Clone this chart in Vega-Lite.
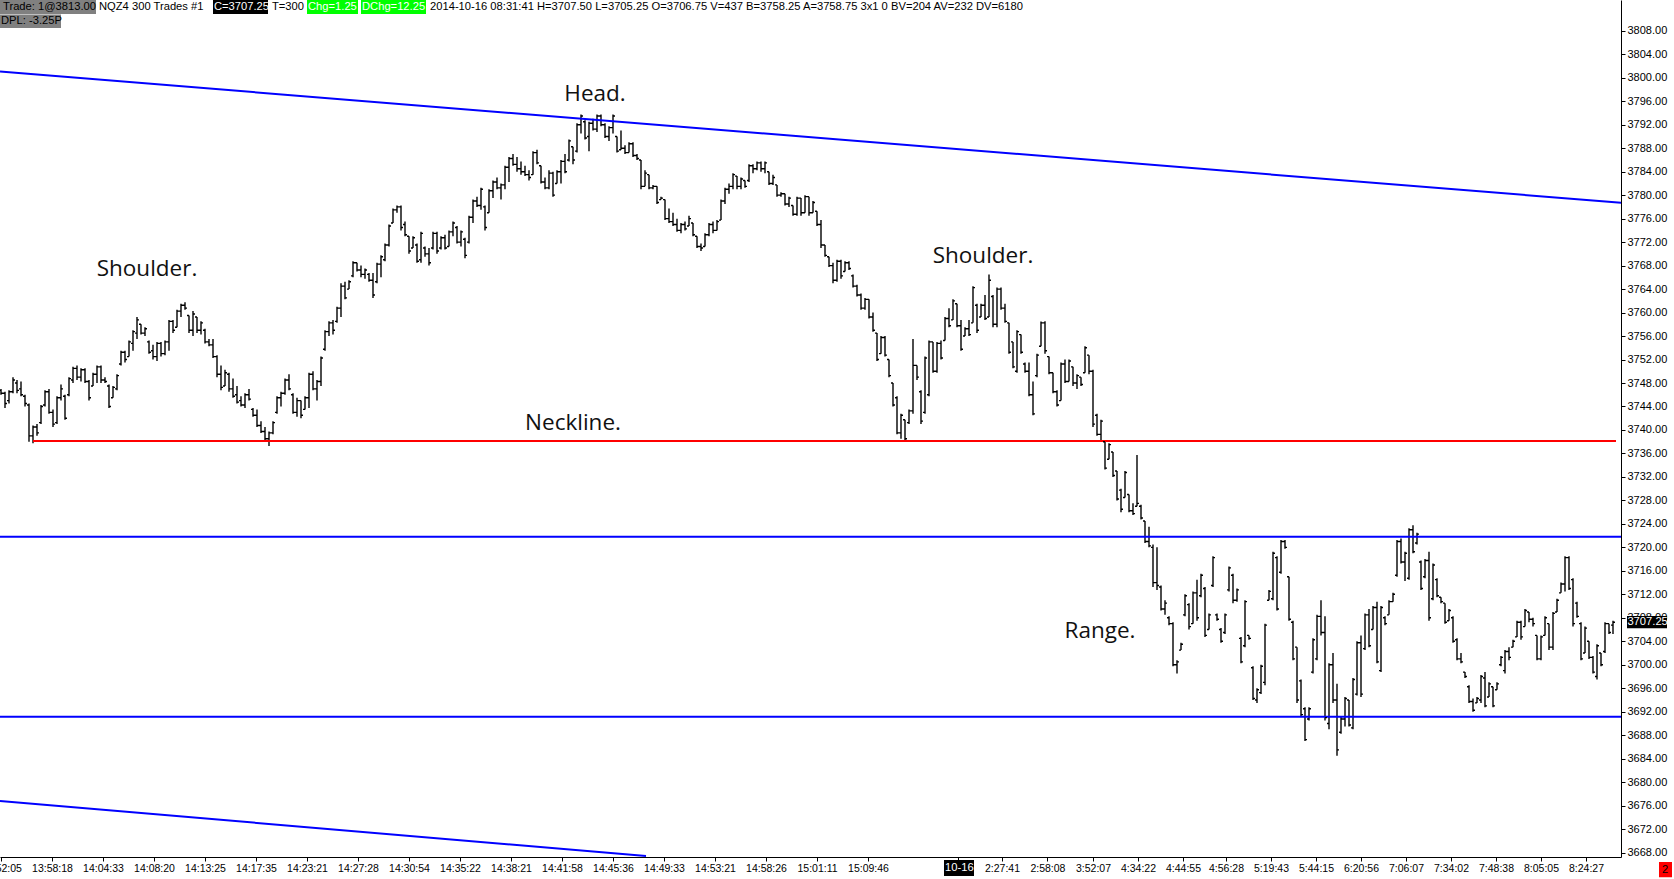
{
  "$schema": "https://vega.github.io/schema/vega-lite/v6.json",
  "width": 1621,
  "height": 857,
  "autosize": {"type": "none"},
  "padding": {"left": 0, "top": 0, "right": 53, "bottom": 22},
  "background": "white",
  "config": {
    "view": {"stroke": null},
    "axis": {
      "grid": false,
      "domainColor": "#000000",
      "tickColor": "#000000",
      "labelColor": "#000000",
      "labelFont": "Liberation Sans",
      "tickSize": 4,
      "domainWidth": 1,
      "labelOverlap": false,
      "labelFlush": false,
      "labelBound": false
    }
  },
  "datasets": {
    "bars": [
      {"i":0,"o":3746.75,"h":3747,"l":3746,"c":3746.25},
      {"i":1,"o":3746.25,"h":3746.5,"l":3743.75,"c":3744.5},
      {"i":2,"o":3745,"h":3746.75,"l":3744.5,"c":3746.5},
      {"i":3,"o":3746.5,"h":3749,"l":3746.25,"c":3748.5},
      {"i":4,"o":3748,"h":3748.5,"l":3746.25,"c":3746.75},
      {"i":5,"o":3747,"h":3748.25,"l":3745.75,"c":3746},
      {"i":6,"o":3745.75,"h":3746,"l":3744,"c":3744.5},
      {"i":7,"o":3744.25,"h":3744.5,"l":3738,"c":3739},
      {"i":8,"o":3739,"h":3740.75,"l":3737.75,"c":3740.5},
      {"i":9,"o":3740.5,"h":3741,"l":3739,"c":3739.5},
      {"i":10,"o":3741.25,"h":3744.25,"l":3741,"c":3744},
      {"i":11,"o":3744.25,"h":3746.75,"l":3744,"c":3746.5},
      {"i":12,"o":3746.5,"h":3747,"l":3742.75,"c":3743},
      {"i":13,"o":3743,"h":3743.5,"l":3740.5,"c":3741},
      {"i":14,"o":3741.25,"h":3745.75,"l":3741,"c":3745.5},
      {"i":15,"o":3745.5,"h":3747.75,"l":3745,"c":3747},
      {"i":16,"o":3745.75,"h":3746,"l":3741.75,"c":3742},
      {"i":17,"o":3746,"h":3749,"l":3745.75,"c":3748.75},
      {"i":18,"o":3748.5,"h":3750.75,"l":3748,"c":3750.5},
      {"i":19,"o":3750.5,"h":3751,"l":3748.5,"c":3749},
      {"i":20,"o":3749,"h":3750.5,"l":3748.25,"c":3750.25},
      {"i":21,"o":3750.25,"h":3750.5,"l":3748,"c":3748.25},
      {"i":22,"o":3748.25,"h":3748.5,"l":3745,"c":3745.5},
      {"i":23,"o":3747.5,"h":3749.75,"l":3747.5,"c":3749.5},
      {"i":24,"o":3749.5,"h":3751,"l":3748,"c":3750.75},
      {"i":25,"o":3750.75,"h":3751,"l":3748,"c":3748.5},
      {"i":26,"o":3748.5,"h":3749,"l":3748,"c":3748.25},
      {"i":27,"o":3747.5,"h":3747.75,"l":3743.75,"c":3744},
      {"i":28,"o":3745.5,"h":3747.5,"l":3745.5,"c":3747.25},
      {"i":29,"o":3747,"h":3749.5,"l":3746.75,"c":3749.25},
      {"i":30,"o":3751.25,"h":3753.5,"l":3751,"c":3753.25},
      {"i":31,"o":3753.25,"h":3753.5,"l":3751.5,"c":3752},
      {"i":32,"o":3752.5,"h":3755.25,"l":3752.5,"c":3755},
      {"i":33,"o":3754.75,"h":3757,"l":3753.5,"c":3756.75},
      {"i":34,"o":3756.5,"h":3759.25,"l":3755.5,"c":3758.75},
      {"i":35,"o":3758,"h":3758,"l":3756.25,"c":3756.5},
      {"i":36,"o":3756.5,"h":3757.5,"l":3756,"c":3757.25},
      {"i":37,"o":3755,"h":3755.25,"l":3753,"c":3753.25},
      {"i":38,"o":3753.5,"h":3754.5,"l":3752,"c":3752.5},
      {"i":39,"o":3752.5,"h":3755,"l":3751.75,"c":3754.75},
      {"i":40,"o":3754.75,"h":3755,"l":3752.5,"c":3753},
      {"i":41,"o":3753,"h":3755.25,"l":3752.75,"c":3755},
      {"i":42,"o":3755,"h":3758.75,"l":3753.5,"c":3758.5},
      {"i":43,"o":3758.5,"h":3758.75,"l":3756.5,"c":3757},
      {"i":44,"o":3757.5,"h":3760.5,"l":3757.5,"c":3760.25},
      {"i":45,"o":3760.25,"h":3761.5,"l":3759.25,"c":3761.25},
      {"i":46,"o":3761.25,"h":3761.75,"l":3760.5,"c":3760.75},
      {"i":47,"o":3759.5,"h":3759.5,"l":3756.5,"c":3757},
      {"i":48,"o":3757,"h":3760.25,"l":3756,"c":3759.75},
      {"i":49,"o":3759.25,"h":3759.25,"l":3756.5,"c":3757},
      {"i":50,"o":3757,"h":3758.5,"l":3756.25,"c":3758.25},
      {"i":51,"o":3757,"h":3757.25,"l":3754.75,"c":3755},
      {"i":52,"o":3755,"h":3755.5,"l":3754.25,"c":3754.5},
      {"i":53,"o":3754.5,"h":3755.5,"l":3752.25,"c":3752.5},
      {"i":54,"o":3752.5,"h":3752.75,"l":3749,"c":3749.5},
      {"i":55,"o":3749.5,"h":3751,"l":3746.75,"c":3747.25},
      {"i":56,"o":3747.5,"h":3750.25,"l":3747.5,"c":3749.75},
      {"i":57,"o":3749.5,"h":3749.75,"l":3746.5,"c":3747},
      {"i":58,"o":3747,"h":3748.75,"l":3745.5,"c":3745.75},
      {"i":59,"o":3746,"h":3747.5,"l":3744.5,"c":3744.75},
      {"i":60,"o":3745,"h":3745.75,"l":3744,"c":3744.25},
      {"i":61,"o":3744.25,"h":3746.25,"l":3743.75,"c":3746},
      {"i":62,"o":3746,"h":3747,"l":3745,"c":3745.25},
      {"i":63,"o":3743.5,"h":3743.75,"l":3742.25,"c":3742.5},
      {"i":64,"o":3742.5,"h":3743.5,"l":3740.5,"c":3740.75},
      {"i":65,"o":3740.75,"h":3741.5,"l":3739.5,"c":3739.75},
      {"i":66,"o":3739.75,"h":3740.5,"l":3738.25,"c":3738.5},
      {"i":67,"o":3738.5,"h":3739.75,"l":3737.25,"c":3739.5},
      {"i":68,"o":3739.5,"h":3741.5,"l":3739.25,"c":3741.25},
      {"i":69,"o":3743,"h":3745.75,"l":3742.75,"c":3745.5},
      {"i":70,"o":3745.5,"h":3746.5,"l":3744,"c":3746.25},
      {"i":71,"o":3746.25,"h":3748.75,"l":3746,"c":3748.5},
      {"i":72,"o":3748.5,"h":3749.5,"l":3746.75,"c":3747},
      {"i":73,"o":3746,"h":3746.25,"l":3742.75,"c":3743},
      {"i":74,"o":3743,"h":3745.5,"l":3742.25,"c":3745},
      {"i":75,"o":3745,"h":3745,"l":3742,"c":3742.5},
      {"i":76,"o":3743.5,"h":3745.75,"l":3743.5,"c":3745.5},
      {"i":77,"o":3745.5,"h":3749.75,"l":3743.75,"c":3749.5},
      {"i":78,"o":3749.5,"h":3750,"l":3746.75,"c":3747},
      {"i":79,"o":3747,"h":3748.5,"l":3745,"c":3748.25},
      {"i":80,"o":3748.25,"h":3752.5,"l":3747.5,"c":3752.25},
      {"i":81,"o":3753.75,"h":3757,"l":3753.5,"c":3756.75},
      {"i":82,"o":3756.75,"h":3758.5,"l":3756,"c":3758.25},
      {"i":83,"o":3758.25,"h":3758.75,"l":3756.25,"c":3757},
      {"i":84,"o":3758.5,"h":3761,"l":3758.25,"c":3760.75},
      {"i":85,"o":3760.75,"h":3765,"l":3759.25,"c":3764.5},
      {"i":86,"o":3764.5,"h":3765.25,"l":3762.25,"c":3762.5},
      {"i":87,"o":3764,"h":3765.5,"l":3764,"c":3765.25},
      {"i":88,"o":3766.25,"h":3768.75,"l":3766,"c":3768.5},
      {"i":89,"o":3768.5,"h":3768.5,"l":3767,"c":3767.25},
      {"i":90,"o":3767.25,"h":3768,"l":3766,"c":3766.5},
      {"i":91,"o":3766.5,"h":3767.5,"l":3765.75,"c":3767.25},
      {"i":92,"o":3766.5,"h":3766.75,"l":3765.25,"c":3765.5},
      {"i":93,"o":3765.5,"h":3766.75,"l":3762.5,"c":3763},
      {"i":94,"o":3765.25,"h":3768.5,"l":3765,"c":3768.25},
      {"i":95,"o":3768.25,"h":3769.75,"l":3766,"c":3769.5},
      {"i":96,"o":3769,"h":3771.75,"l":3768.75,"c":3771.5},
      {"i":97,"o":3771.5,"h":3775,"l":3771.25,"c":3774.75},
      {"i":98,"o":3775.25,"h":3777.75,"l":3775.25,"c":3777.5},
      {"i":99,"o":3777.5,"h":3778.25,"l":3777,"c":3778},
      {"i":100,"o":3778,"h":3778.25,"l":3774,"c":3774.5},
      {"i":101,"o":3775,"h":3775.5,"l":3773,"c":3773.25},
      {"i":102,"o":3773,"h":3773,"l":3770,"c":3770.5},
      {"i":103,"o":3771,"h":3773,"l":3771,"c":3772.75},
      {"i":104,"o":3771.5,"h":3771.75,"l":3768.5,"c":3768.75},
      {"i":105,"o":3769,"h":3773.75,"l":3768.5,"c":3773.5},
      {"i":106,"o":3771,"h":3771.25,"l":3769.5,"c":3770},
      {"i":107,"o":3770,"h":3771,"l":3768,"c":3768.5},
      {"i":108,"o":3771,"h":3773.75,"l":3770.75,"c":3773.5},
      {"i":109,"o":3773.5,"h":3773.75,"l":3770,"c":3770.5},
      {"i":110,"o":3771,"h":3773,"l":3770.75,"c":3772.75},
      {"i":111,"o":3772.75,"h":3773.25,"l":3770.75,"c":3771},
      {"i":112,"o":3771.25,"h":3774,"l":3771.25,"c":3773.75},
      {"i":113,"o":3773.75,"h":3775.5,"l":3773,"c":3775.25},
      {"i":114,"o":3774.5,"h":3774.75,"l":3771.75,"c":3772},
      {"i":115,"o":3772,"h":3774,"l":3771.25,"c":3773.75},
      {"i":116,"o":3772.5,"h":3772.75,"l":3769.25,"c":3769.75},
      {"i":117,"o":3772,"h":3776.5,"l":3771.75,"c":3776.25},
      {"i":118,"o":3776.25,"h":3779.25,"l":3775.25,"c":3779},
      {"i":119,"o":3779,"h":3779.75,"l":3778,"c":3778.25},
      {"i":120,"o":3778.25,"h":3781.25,"l":3777.5,"c":3781},
      {"i":121,"o":3778,"h":3778.25,"l":3774,"c":3774.5},
      {"i":122,"o":3777,"h":3781,"l":3777,"c":3780.75},
      {"i":123,"o":3780.75,"h":3782.5,"l":3779.5,"c":3782.25},
      {"i":124,"o":3782.25,"h":3783,"l":3781,"c":3781.25},
      {"i":125,"o":3781.25,"h":3782,"l":3779.25,"c":3781.75},
      {"i":126,"o":3781.75,"h":3785,"l":3781,"c":3784.75},
      {"i":127,"o":3784.75,"h":3786.5,"l":3782.25,"c":3786.25},
      {"i":128,"o":3786.25,"h":3787,"l":3785,"c":3785.25},
      {"i":129,"o":3785.25,"h":3786.5,"l":3784,"c":3784.5},
      {"i":130,"o":3784.5,"h":3785.75,"l":3783.5,"c":3784},
      {"i":131,"o":3784,"h":3785,"l":3783.25,"c":3783.5},
      {"i":132,"o":3783.5,"h":3784.25,"l":3782.5,"c":3783},
      {"i":133,"o":3783.5,"h":3787.5,"l":3783.5,"c":3787.25},
      {"i":134,"o":3787.25,"h":3787.75,"l":3785.25,"c":3785.5},
      {"i":135,"o":3785,"h":3785,"l":3782,"c":3782.25},
      {"i":136,"o":3782.25,"h":3783,"l":3781,"c":3781.25},
      {"i":137,"o":3781.25,"h":3784.25,"l":3781,"c":3783.75},
      {"i":138,"o":3783.75,"h":3784,"l":3779.75,"c":3780},
      {"i":139,"o":3782,"h":3784.25,"l":3782,"c":3784},
      {"i":140,"o":3784,"h":3786,"l":3782,"c":3785.75},
      {"i":141,"o":3785.75,"h":3787,"l":3783.75,"c":3784},
      {"i":142,"o":3786,"h":3789.5,"l":3785.75,"c":3789.25},
      {"i":143,"o":3788.25,"h":3788.25,"l":3785.25,"c":3786},
      {"i":144,"o":3787.5,"h":3792.25,"l":3787.25,"c":3792},
      {"i":145,"o":3792,"h":3793.75,"l":3790.5,"c":3793.5},
      {"i":146,"o":3792.5,"h":3792.75,"l":3789.5,"c":3789.75},
      {"i":147,"o":3790,"h":3792.5,"l":3787.5,"c":3792.25},
      {"i":148,"o":3792.25,"h":3793,"l":3791,"c":3791.25},
      {"i":149,"o":3791.25,"h":3793.75,"l":3790.75,"c":3793.5},
      {"i":150,"o":3793.5,"h":3793.75,"l":3791.75,"c":3792},
      {"i":151,"o":3792,"h":3792.25,"l":3789.75,"c":3790},
      {"i":152,"o":3790,"h":3791.75,"l":3789.25,"c":3791.5},
      {"i":153,"o":3791.5,"h":3793.75,"l":3790.5,"c":3793.5},
      {"i":154,"o":3790,"h":3790,"l":3787.25,"c":3787.5},
      {"i":155,"o":3787.75,"h":3791,"l":3787.75,"c":3788},
      {"i":156,"o":3788,"h":3788.5,"l":3787,"c":3787.25},
      {"i":157,"o":3787.25,"h":3789,"l":3787.25,"c":3788.75},
      {"i":158,"o":3788.75,"h":3789,"l":3786.5,"c":3786.75},
      {"i":159,"o":3786.75,"h":3787,"l":3786,"c":3786.25},
      {"i":160,"o":3786,"h":3786,"l":3781,"c":3781.5},
      {"i":161,"o":3781.5,"h":3784.25,"l":3781.5,"c":3783.75},
      {"i":162,"o":3783.5,"h":3783.5,"l":3781,"c":3781.25},
      {"i":163,"o":3781.25,"h":3781.75,"l":3781,"c":3781.5},
      {"i":164,"o":3781.5,"h":3781.5,"l":3778.5,"c":3778.75},
      {"i":165,"o":3779.25,"h":3779.75,"l":3779.25,"c":3779.5},
      {"i":166,"o":3779.25,"h":3779.25,"l":3775.75,"c":3776},
      {"i":167,"o":3776,"h":3777.75,"l":3775.25,"c":3775.5},
      {"i":168,"o":3775.5,"h":3777,"l":3774.75,"c":3775},
      {"i":169,"o":3775,"h":3776,"l":3773.75,"c":3774},
      {"i":170,"o":3774,"h":3775.25,"l":3773.5,"c":3775},
      {"i":171,"o":3775,"h":3775.5,"l":3774,"c":3774.25},
      {"i":172,"o":3774.75,"h":3776.5,"l":3774.75,"c":3776},
      {"i":173,"o":3775.25,"h":3775.25,"l":3773,"c":3773.25},
      {"i":174,"o":3773,"h":3773,"l":3771,"c":3771.25},
      {"i":175,"o":3771.25,"h":3771.75,"l":3770.5,"c":3771},
      {"i":176,"o":3771.25,"h":3773.5,"l":3771.25,"c":3773.25},
      {"i":177,"o":3773.25,"h":3775.25,"l":3773,"c":3775},
      {"i":178,"o":3775,"h":3775.5,"l":3773.5,"c":3774},
      {"i":179,"o":3774,"h":3775.75,"l":3774,"c":3775.5},
      {"i":180,"o":3775.75,"h":3779.25,"l":3775.75,"c":3779},
      {"i":181,"o":3779,"h":3781.25,"l":3778.5,"c":3781},
      {"i":182,"o":3781,"h":3782,"l":3780.25,"c":3781.5},
      {"i":183,"o":3781.5,"h":3783.75,"l":3781,"c":3783.5},
      {"i":184,"o":3783.25,"h":3783.25,"l":3781,"c":3781.5},
      {"i":185,"o":3781.5,"h":3783,"l":3781,"c":3782.75},
      {"i":186,"o":3782.5,"h":3782.5,"l":3781.25,"c":3781.5},
      {"i":187,"o":3782.5,"h":3785.25,"l":3782.25,"c":3785},
      {"i":188,"o":3785,"h":3785.25,"l":3783.75,"c":3784.5},
      {"i":189,"o":3784.5,"h":3785.75,"l":3784.25,"c":3785.5},
      {"i":190,"o":3785.5,"h":3785.75,"l":3784,"c":3784.5},
      {"i":191,"o":3784.5,"h":3785.75,"l":3783.75,"c":3785.5},
      {"i":192,"o":3784,"h":3784,"l":3781.75,"c":3782},
      {"i":193,"o":3782,"h":3783.5,"l":3781.75,"c":3783},
      {"i":194,"o":3781.75,"h":3781.75,"l":3779.75,"c":3780},
      {"i":195,"o":3780,"h":3780.5,"l":3779.75,"c":3780.25},
      {"i":196,"o":3780.25,"h":3780.25,"l":3778.25,"c":3778.5},
      {"i":197,"o":3778.5,"h":3779.75,"l":3778,"c":3779.5},
      {"i":198,"o":3778.25,"h":3778.25,"l":3776.5,"c":3776.75},
      {"i":199,"o":3776.75,"h":3779.75,"l":3776.5,"c":3779.5},
      {"i":200,"o":3779.5,"h":3779.5,"l":3776.5,"c":3777},
      {"i":201,"o":3777,"h":3780,"l":3777,"c":3779.75},
      {"i":202,"o":3779.75,"h":3779.75,"l":3776.5,"c":3777},
      {"i":203,"o":3777,"h":3779,"l":3777,"c":3778.75},
      {"i":204,"o":3777.25,"h":3777.25,"l":3774.75,"c":3775},
      {"i":205,"o":3775,"h":3775.75,"l":3771,"c":3771.5},
      {"i":206,"o":3771.5,"h":3771.5,"l":3769.5,"c":3769.75},
      {"i":207,"o":3769.5,"h":3769.5,"l":3767.75,"c":3768},
      {"i":208,"o":3768,"h":3768.5,"l":3765,"c":3765.5},
      {"i":209,"o":3765.5,"h":3769,"l":3765.25,"c":3768.75},
      {"i":210,"o":3768.75,"h":3769,"l":3765.75,"c":3766.25},
      {"i":211,"o":3767,"h":3768.75,"l":3767,"c":3768.5},
      {"i":212,"o":3768.5,"h":3768.75,"l":3767.25,"c":3767.5},
      {"i":213,"o":3766.25,"h":3766.5,"l":3764.25,"c":3764.5},
      {"i":214,"o":3764.5,"h":3764.75,"l":3762.75,"c":3763},
      {"i":215,"o":3763,"h":3763.25,"l":3760.5,"c":3760.75},
      {"i":216,"o":3760.75,"h":3762.5,"l":3760.5,"c":3762.25},
      {"i":217,"o":3762.25,"h":3762.25,"l":3759,"c":3759.25},
      {"i":218,"o":3759.25,"h":3760,"l":3756.75,"c":3757},
      {"i":219,"o":3756.5,"h":3756.5,"l":3751.75,"c":3752},
      {"i":220,"o":3753,"h":3756,"l":3753,"c":3755.75},
      {"i":221,"o":3755.75,"h":3756,"l":3752.5,"c":3752.75},
      {"i":222,"o":3752,"h":3752,"l":3749,"c":3749.25},
      {"i":223,"o":3748,"h":3748,"l":3744,"c":3744.25},
      {"i":224,"o":3745.5,"h":3745.75,"l":3739.25,"c":3739.5},
      {"i":225,"o":3739.5,"h":3742.75,"l":3738.5,"c":3742.5},
      {"i":226,"o":3741.75,"h":3741.75,"l":3738.25,"c":3738.5},
      {"i":227,"o":3741.25,"h":3743.5,"l":3741,"c":3743.25},
      {"i":228,"o":3743.25,"h":3755.5,"l":3742.75,"c":3751},
      {"i":229,"o":3751,"h":3751,"l":3748.5,"c":3749},
      {"i":230,"o":3746.5,"h":3746.75,"l":3741,"c":3741.5},
      {"i":231,"o":3743,"h":3752.5,"l":3742.75,"c":3752.25},
      {"i":232,"o":3746,"h":3755.25,"l":3745.75,"c":3755},
      {"i":233,"o":3755,"h":3755,"l":3749.75,"c":3750},
      {"i":234,"o":3750,"h":3755,"l":3749.75,"c":3754.75},
      {"i":235,"o":3754.75,"h":3755.25,"l":3752,"c":3752.25},
      {"i":236,"o":3755.25,"h":3759.25,"l":3755.25,"c":3759},
      {"i":237,"o":3759,"h":3760.75,"l":3757.5,"c":3757.75},
      {"i":238,"o":3758.75,"h":3762.25,"l":3758.75,"c":3762},
      {"i":239,"o":3761.5,"h":3761.5,"l":3757.5,"c":3757.75},
      {"i":240,"o":3757.75,"h":3758.75,"l":3753.5,"c":3753.75},
      {"i":241,"o":3756,"h":3757.5,"l":3756,"c":3757.25},
      {"i":242,"o":3757.25,"h":3758.75,"l":3756,"c":3756.25},
      {"i":243,"o":3758.25,"h":3764.5,"l":3758.25,"c":3764.25},
      {"i":244,"o":3761.25,"h":3761.5,"l":3756.5,"c":3757},
      {"i":245,"o":3759.25,"h":3761.5,"l":3759.25,"c":3761.25},
      {"i":246,"o":3761.25,"h":3763,"l":3758.75,"c":3759},
      {"i":247,"o":3759.25,"h":3766.5,"l":3759.25,"c":3765.5},
      {"i":248,"o":3762.75,"h":3763,"l":3757.5,"c":3758},
      {"i":249,"o":3758,"h":3764.25,"l":3757.5,"c":3764},
      {"i":250,"o":3764,"h":3764.25,"l":3760.5,"c":3760.75},
      {"i":251,"o":3760.75,"h":3761.5,"l":3758.25,"c":3758.5},
      {"i":252,"o":3758.25,"h":3758.25,"l":3753,"c":3753.25},
      {"i":253,"o":3755,"h":3755,"l":3750.5,"c":3750.75},
      {"i":254,"o":3750,"h":3757,"l":3749.75,"c":3756.75},
      {"i":255,"o":3756.25,"h":3756.25,"l":3753,"c":3753.25},
      {"i":256,"o":3751.25,"h":3751.5,"l":3749.75,"c":3750},
      {"i":257,"o":3750,"h":3751.5,"l":3745.75,"c":3746},
      {"i":258,"o":3746,"h":3748.25,"l":3742.5,"c":3742.75},
      {"i":259,"o":3749.25,"h":3753,"l":3749,"c":3752.75},
      {"i":260,"o":3754.25,"h":3758.5,"l":3754.25,"c":3758.25},
      {"i":261,"o":3758.25,"h":3758.5,"l":3753,"c":3753.5},
      {"i":262,"o":3752.5,"h":3752.5,"l":3749.5,"c":3749.75},
      {"i":263,"o":3749.75,"h":3749.75,"l":3746.25,"c":3746.5},
      {"i":264,"o":3746.5,"h":3746.75,"l":3744,"c":3744.25},
      {"i":265,"o":3745,"h":3751.5,"l":3745,"c":3751.25},
      {"i":266,"o":3751.25,"h":3752,"l":3748,"c":3748.25},
      {"i":267,"o":3748.25,"h":3752,"l":3748.25,"c":3751.75},
      {"i":268,"o":3750.75,"h":3750.75,"l":3747.5,"c":3748},
      {"i":269,"o":3748,"h":3749.5,"l":3747,"c":3749.25},
      {"i":270,"o":3749,"h":3749,"l":3747.5,"c":3747.75},
      {"i":271,"o":3749.75,"h":3754.25,"l":3749.75,"c":3754},
      {"i":272,"o":3752.75,"h":3752.75,"l":3749.5,"c":3750},
      {"i":273,"o":3750,"h":3750.25,"l":3740.5,"c":3741},
      {"i":274,"o":3742.5,"h":3742.75,"l":3739,"c":3739.25},
      {"i":275,"o":3739.25,"h":3741.75,"l":3738.25,"c":3741.5},
      {"i":276,"o":3738,"h":3738,"l":3733.25,"c":3733.5},
      {"i":277,"o":3735,"h":3737.75,"l":3735,"c":3737.5},
      {"i":278,"o":3736.25,"h":3736.25,"l":3732,"c":3732.25},
      {"i":279,"o":3733,"h":3733,"l":3728,"c":3728.25},
      {"i":280,"o":3729.75,"h":3730,"l":3726,"c":3726.5},
      {"i":281,"o":3728.5,"h":3733,"l":3728.5,"c":3732.75},
      {"i":282,"o":3729,"h":3729,"l":3726,"c":3726.25},
      {"i":283,"o":3726.25,"h":3727.5,"l":3725.5,"c":3725.75},
      {"i":284,"o":3727,"h":3735.75,"l":3727,"c":3727.5},
      {"i":285,"o":3727,"h":3727.25,"l":3724.75,"c":3725},
      {"i":286,"o":3724.5,"h":3724.5,"l":3720.75,"c":3721},
      {"i":287,"o":3721,"h":3723.5,"l":3720,"c":3720.25},
      {"i":288,"o":3720,"h":3720.5,"l":3713.25,"c":3714},
      {"i":289,"o":3714,"h":3720,"l":3712.75,"c":3713.5},
      {"i":290,"o":3713.25,"h":3713.5,"l":3709.25,"c":3709.5},
      {"i":291,"o":3709.5,"h":3711,"l":3708.5,"c":3710.5},
      {"i":292,"o":3708,"h":3708.25,"l":3706.75,"c":3707},
      {"i":293,"o":3707,"h":3707.25,"l":3699.75,"c":3700},
      {"i":294,"o":3700,"h":3700.75,"l":3698.5,"c":3700.5},
      {"i":295,"o":3702.5,"h":3703.75,"l":3702.5,"c":3703.5},
      {"i":296,"o":3708.5,"h":3712,"l":3708.25,"c":3711.75},
      {"i":297,"o":3710.25,"h":3710.5,"l":3706,"c":3706.5},
      {"i":298,"o":3707,"h":3712.5,"l":3707,"c":3712.25},
      {"i":299,"o":3712.25,"h":3714.5,"l":3707.5,"c":3708},
      {"i":300,"o":3711.75,"h":3715.5,"l":3711.5,"c":3715.25},
      {"i":301,"o":3713,"h":3713.25,"l":3704.75,"c":3705},
      {"i":302,"o":3706,"h":3708.75,"l":3706,"c":3708.5},
      {"i":303,"o":3713.5,"h":3718.5,"l":3713.25,"c":3718.25},
      {"i":304,"o":3708.5,"h":3708.75,"l":3707.5,"c":3707.75},
      {"i":305,"o":3706,"h":3706.25,"l":3703.75,"c":3704},
      {"i":306,"o":3705.5,"h":3708.75,"l":3705.25,"c":3708.5},
      {"i":307,"o":3712.75,"h":3716.75,"l":3712.5,"c":3716.5},
      {"i":308,"o":3715.25,"h":3715.5,"l":3710.5,"c":3711},
      {"i":309,"o":3711,"h":3713,"l":3710.75,"c":3712.75},
      {"i":310,"o":3704.5,"h":3704.75,"l":3700.25,"c":3700.5},
      {"i":311,"o":3703.25,"h":3711,"l":3703,"c":3710.75},
      {"i":312,"o":3705,"h":3705,"l":3704.25,"c":3704.5},
      {"i":313,"o":3699.5,"h":3699.75,"l":3694,"c":3694.25},
      {"i":314,"o":3694,"h":3696,"l":3693.5,"c":3695.75},
      {"i":315,"o":3695.25,"h":3700,"l":3695,"c":3699.75},
      {"i":316,"o":3697,"h":3707,"l":3696.5,"c":3706.75},
      {"i":317,"o":3711,"h":3712.75,"l":3711,"c":3712.5},
      {"i":318,"o":3711.25,"h":3719.25,"l":3711,"c":3719},
      {"i":319,"o":3718.25,"h":3718.5,"l":3709.25,"c":3709.5},
      {"i":320,"o":3715.75,"h":3721.25,"l":3715.5,"c":3721},
      {"i":321,"o":3721,"h":3721.25,"l":3719.75,"c":3720},
      {"i":322,"o":3715,"h":3715,"l":3707.5,"c":3707.75},
      {"i":323,"o":3707.25,"h":3707.5,"l":3700.75,"c":3701},
      {"i":324,"o":3703,"h":3703,"l":3693.5,"c":3694},
      {"i":325,"o":3697.25,"h":3697.5,"l":3691.25,"c":3691.5},
      {"i":326,"o":3692.5,"h":3692.75,"l":3687,"c":3687.25},
      {"i":327,"o":3690.75,"h":3692.75,"l":3690.5,"c":3692.5},
      {"i":328,"o":3698.75,"h":3704.5,"l":3698.5,"c":3704.25},
      {"i":329,"o":3701,"h":3708.5,"l":3700.75,"c":3708.25},
      {"i":330,"o":3708.25,"h":3711,"l":3705,"c":3705.5},
      {"i":331,"o":3705.5,"h":3708.25,"l":3690.5,"c":3691},
      {"i":332,"o":3690,"h":3700.25,"l":3689,"c":3700},
      {"i":333,"o":3700,"h":3702,"l":3693.5,"c":3694},
      {"i":334,"o":3694,"h":3696.75,"l":3684.5,"c":3685.5},
      {"i":335,"o":3688.5,"h":3691.25,"l":3688.25,"c":3690.75},
      {"i":336,"o":3690.75,"h":3694.5,"l":3689.5,"c":3694.25},
      {"i":337,"o":3694,"h":3694,"l":3689.5,"c":3689.75},
      {"i":338,"o":3689.25,"h":3697.75,"l":3689,"c":3697.5},
      {"i":339,"o":3695,"h":3704,"l":3694.75,"c":3703.75},
      {"i":340,"o":3703.75,"h":3705,"l":3694.5,"c":3695},
      {"i":341,"o":3702.75,"h":3708.75,"l":3702.5,"c":3708.5},
      {"i":342,"o":3708.5,"h":3709.5,"l":3703,"c":3703.25},
      {"i":343,"o":3706,"h":3710,"l":3706,"c":3709.75},
      {"i":344,"o":3709.75,"h":3710.75,"l":3700.25,"c":3700.5},
      {"i":345,"o":3699,"h":3710,"l":3698.75,"c":3709.75},
      {"i":346,"o":3708,"h":3708.25,"l":3706.75,"c":3707},
      {"i":347,"o":3708.5,"h":3711,"l":3708.5,"c":3710.75},
      {"i":348,"o":3710.75,"h":3712.25,"l":3710.75,"c":3712},
      {"i":349,"o":3715.25,"h":3721.25,"l":3715,"c":3721},
      {"i":350,"o":3721,"h":3721.5,"l":3717.25,"c":3717.5},
      {"i":351,"o":3717.5,"h":3719.25,"l":3714.25,"c":3719},
      {"i":352,"o":3714.75,"h":3723.25,"l":3714.5,"c":3723},
      {"i":353,"o":3723,"h":3723.75,"l":3719,"c":3719.25},
      {"i":354,"o":3720.75,"h":3722.5,"l":3720.5,"c":3722.25},
      {"i":355,"o":3717.5,"h":3717.75,"l":3712.75,"c":3713},
      {"i":356,"o":3715,"h":3718,"l":3714.75,"c":3717.75},
      {"i":357,"o":3717.75,"h":3719.25,"l":3707.5,"c":3708},
      {"i":358,"o":3711.25,"h":3717.25,"l":3711,"c":3717},
      {"i":359,"o":3714.5,"h":3714.75,"l":3711.5,"c":3711.75},
      {"i":360,"o":3711.5,"h":3711.5,"l":3710.5,"c":3710.75},
      {"i":361,"o":3710.5,"h":3710.5,"l":3707,"c":3707.25},
      {"i":362,"o":3707.5,"h":3709.5,"l":3707.5,"c":3709.25},
      {"i":363,"o":3708,"h":3708.25,"l":3703.75,"c":3704},
      {"i":364,"o":3704.25,"h":3704.5,"l":3700.75,"c":3701},
      {"i":365,"o":3701,"h":3702,"l":3700.25,"c":3700.5},
      {"i":366,"o":3698.75,"h":3698.75,"l":3697.75,"c":3698},
      {"i":367,"o":3696.25,"h":3696.5,"l":3693.5,"c":3693.75},
      {"i":368,"o":3693.75,"h":3694.25,"l":3692,"c":3692.25},
      {"i":369,"o":3693.5,"h":3694.5,"l":3693.5,"c":3694.25},
      {"i":370,"o":3694,"h":3698.25,"l":3693.5,"c":3698},
      {"i":371,"o":3697.75,"h":3698.75,"l":3692.75,"c":3693},
      {"i":372,"o":3694.5,"h":3697,"l":3694.5,"c":3696.75},
      {"i":373,"o":3696.25,"h":3696.25,"l":3692.75,"c":3693},
      {"i":374,"o":3695.75,"h":3697,"l":3695.75,"c":3696.75},
      {"i":375,"o":3700,"h":3701.5,"l":3699.75,"c":3701.25},
      {"i":376,"o":3699,"h":3702.5,"l":3698.5,"c":3702.25},
      {"i":377,"o":3702.25,"h":3703,"l":3700.75,"c":3701.25},
      {"i":378,"o":3703,"h":3704.25,"l":3703,"c":3704},
      {"i":379,"o":3704.75,"h":3707.5,"l":3704.75,"c":3707.25},
      {"i":380,"o":3707.25,"h":3707.5,"l":3704.25,"c":3704.75},
      {"i":381,"o":3706.5,"h":3709.5,"l":3706.5,"c":3709.25},
      {"i":382,"o":3709,"h":3709,"l":3707.25,"c":3707.75},
      {"i":383,"o":3707.75,"h":3708,"l":3706.5,"c":3707},
      {"i":384,"o":3705,"h":3705,"l":3700.75,"c":3701},
      {"i":385,"o":3701,"h":3705,"l":3700.75,"c":3704.75},
      {"i":386,"o":3705,"h":3708.25,"l":3705,"c":3708},
      {"i":387,"o":3707,"h":3707,"l":3702.5,"c":3703},
      {"i":388,"o":3703,"h":3709,"l":3702.5,"c":3708.75},
      {"i":389,"o":3709,"h":3711.25,"l":3709,"c":3711},
      {"i":390,"o":3712.25,"h":3714,"l":3712.25,"c":3713.75},
      {"i":391,"o":3713.75,"h":3718.5,"l":3712.5,"c":3718.25},
      {"i":392,"o":3718.25,"h":3718.5,"l":3712.75,"c":3713},
      {"i":393,"o":3714.5,"h":3714.75,"l":3706.5,"c":3707},
      {"i":394,"o":3710.5,"h":3710.75,"l":3708,"c":3708.25},
      {"i":395,"o":3707,"h":3707.25,"l":3700.75,"c":3701},
      {"i":396,"o":3702,"h":3706.5,"l":3702,"c":3706.25},
      {"i":397,"o":3704,"h":3704,"l":3701,"c":3701.25},
      {"i":398,"o":3701.25,"h":3701.5,"l":3698.5,"c":3698.75},
      {"i":399,"o":3698,"h":3703.5,"l":3697.5,"c":3703.25},
      {"i":400,"o":3702,"h":3702,"l":3699.75,"c":3700},
      {"i":401,"o":3702.25,"h":3707.25,"l":3702,"c":3707},
      {"i":402,"o":3707,"h":3707,"l":3705.25,"c":3705.5},
      {"i":403,"o":3706.75,"h":3707.5,"l":3705.25,"c":3707.25}
    ],
    "lines": [
      {"x":-0.25,"y":3801.05,"x2":405,"y2":3778.7,"kind":"trend"},
      {"x":-0.25,"y":3676.8,"x2":161.25,"y2":3667.4,"kind":"trend"},
      {"x":-0.25,"y":3721.8,"x2":405,"y2":3721.8,"kind":"range"},
      {"x":-0.25,"y":3691.15,"x2":405,"y2":3691.15,"kind":"range"},
      {"x":8,"y":3738.1,"x2":403.75,"y2":3738.1,"kind":"neckline"}
    ],
    "notes": [
      {"i":36.5,"p":3767.42,"t":"Shoulder."},
      {"i":148.5,"p":3797.24,"t":"Head."},
      {"i":245.5,"p":3769.64,"t":"Shoulder."},
      {"i":143,"p":3741.19,"t":"Neckline."},
      {"i":274.75,"p":3705.75,"t":"Range."}
    ],
    "boxes": [
      {"x":-0.25,"x2":23.75,"y":3813.25,"y2":3810.86,"kind":"tag"},
      {"x":53,"x2":66.75,"y":3813.25,"y2":3810.86,"kind":"value"},
      {"x":76.5,"x2":89.25,"y":3813.25,"y2":3810.86,"kind":"change"},
      {"x":90,"x2":106.25,"y":3813.25,"y2":3810.86,"kind":"change"},
      {"x":-0.25,"x2":15,"y":3810.78,"y2":3808.48,"kind":"tag"},
      {"x":235.75,"x2":243.25,"y":3666.74,"y2":3664.01,"kind":"value"},
      {"x":406.5,"x2":416.5,"y":3708.3,"y2":3706.2,"kind":"value"},
      {"x":414.5,"x2":417.75,"y":3666.4,"y2":3663.8,"kind":"alert"}
    ],
    "texts": [
      {"x":0.5,"y":3812.06,"t":"Trade: 1@3813.00","box":"tag"},
      {"x":24.5,"y":3812.06,"t":"NQZ4  300 Trades  #1","box":"none"},
      {"x":53.25,"y":3812.06,"t":"C=3707.25","box":"value"},
      {"x":67.75,"y":3812.06,"t":"T=300","box":"none"},
      {"x":76.75,"y":3812.06,"t":"Chg=1.25","box":"change"},
      {"x":90.25,"y":3812.06,"t":"DChg=12.25","box":"change"},
      {"x":107.25,"y":3812.06,"t":"2014-10-16 08:31:41 H=3707.50 L=3705.25 O=3706.75 V=437 B=3758.25 A=3758.75 3x1 0 BV=204 AV=232 DV=6180","box":"none"},
      {"x":0,"y":3809.59,"t":"DPL: -3.25P","box":"tag"},
      {"x":236,"y":3665.38,"t":"10-16","box":"value"},
      {"x":406.6,"y":3707.25,"t":"3707.25","box":"value"},
      {"x":415.25,"y":3665.1,"t":"2","box":"alert"}
    ]
  },
  "layer": [
    {
      "data": {"name": "bars"},
      "mark": {"type": "rule", "color": "#000000", "strokeWidth": 1.4},
      "encoding": {
        "x": {
          "field": "i",
          "type": "quantitative",
          "title": null,
          "scale": {"domain": [-0.25, 405], "nice": false, "zero": false},
          "axis": {
            "orient": "bottom",
            "title": null,
            "tickCount": 200,
            "values": [0, 12.75, 25.5, 38.25, 51, 63.75, 76.5, 89.25, 102, 114.75, 127.5, 140.25, 153, 165.75, 178.5, 191.25, 204, 216.75, 239.25, 250.25, 261.6, 273, 284.25, 295.5, 306.25, 317.5, 328.75, 340, 351.25, 362.5, 373.75, 385, 396.25],
            "labelExpr": "['13:52:05','13:58:18','14:04:33','14:08:20','14:13:25','14:17:35','14:23:21','14:27:28','14:30:54','14:35:22','14:38:21','14:41:58','14:45:36','14:49:33','14:53:21','14:58:26','15:01:11','15:09:46','','2:27:41','2:58:08','3:52:07','4:34:22','4:44:55','4:56:28','5:19:43','5:44:15','6:20:56','7:06:07','7:34:02','7:48:38','8:05:05','8:24:27'][indexof([0, 12.75, 25.5, 38.25, 51, 63.75, 76.5, 89.25, 102, 114.75, 127.5, 140.25, 153, 165.75, 178.5, 191.25, 204, 216.75, 239.25, 250.25, 261.6, 273, 284.25, 295.5, 306.25, 317.5, 328.75, 340, 351.25, 362.5, 373.75, 385, 396.25], datum.value)]",
            "labelFontSize": 10.5,
            "labelPadding": 2,
            "labelOverlap": false,
            "labelFlush": false,
            "labelBound": false
          }
        },
        "y": {
          "field": "l",
          "type": "quantitative",
          "title": null,
          "scale": {"domain": [3667.25, 3813.25], "nice": false, "zero": false},
          "axis": {
            "orient": "right",
            "title": null,
            "tickCount": 200,
            "values": [3668, 3672, 3676, 3680, 3684, 3688, 3692, 3696, 3700, 3704, 3708, 3712, 3716, 3720, 3724, 3728, 3732, 3736, 3740, 3744, 3748, 3752, 3756, 3760, 3764, 3768, 3772, 3776, 3780, 3784, 3788, 3792, 3796, 3800, 3804, 3808],
            "format": ".2f",
            "labelFontSize": 11,
            "labelPadding": 2,
            "labelOverlap": false,
            "labelFlush": false,
            "labelBound": false
          }
        },
        "y2": {"field": "h"}
      }
    },
    {
      "data": {"name": "lines"},
      "mark": {"type": "rule", "strokeWidth": 2},
      "encoding": {
        "x": {"field": "x", "type": "quantitative", "title": null},
        "y": {"field": "y", "type": "quantitative", "title": null},
        "x2": {"field": "x2"},
        "y2": {"field": "y2"},
        "color": {
          "field": "kind",
          "type": "nominal",
          "scale": {"domain": ["trend", "range", "neckline", "tag", "value", "change", "alert"], "range": ["#0000ff", "#0000ff", "#ff0000", "#808080", "#000000", "#00ff00", "#ff0000"]},
          "legend": null
        }
      }
    },
    {
      "data": {"name": "bars"},
      "mark": {"type": "rule", "color": "#000000", "strokeWidth": 1.4, "xOffset": -2, "x2Offset": 0},
      "encoding": {
        "x": {"field": "i", "type": "quantitative", "title": null},
        "x2": {"field": "i"},
        "y": {"field": "o", "type": "quantitative", "title": null}
      }
    },
    {
      "data": {"name": "bars"},
      "mark": {"type": "rule", "color": "#000000", "strokeWidth": 1.4, "xOffset": 0, "x2Offset": 2},
      "encoding": {
        "x": {"field": "i", "type": "quantitative", "title": null},
        "x2": {"field": "i"},
        "y": {"field": "c", "type": "quantitative", "title": null}
      }
    },
    {
      "data": {"name": "notes"},
      "mark": {"type": "text", "font": "Open Sans", "fontSize": 22.5, "color": "#111111", "align": "center", "baseline": "middle"},
      "encoding": {
        "x": {"field": "i", "type": "quantitative", "title": null},
        "y": {"field": "p", "type": "quantitative", "title": null},
        "text": {"field": "t"}
      }
    },
    {
      "data": {"name": "boxes"},
      "mark": {"type": "rect"},
      "encoding": {
        "x": {"field": "x", "type": "quantitative", "title": null},
        "x2": {"field": "x2"},
        "y": {"field": "y", "type": "quantitative", "title": null},
        "y2": {"field": "y2"},
        "color": {
          "field": "kind",
          "type": "nominal",
          "scale": {"domain": ["trend", "range", "neckline", "tag", "value", "change", "alert"], "range": ["#0000ff", "#0000ff", "#ff0000", "#808080", "#000000", "#00ff00", "#ff0000"]},
          "legend": null
        }
      }
    },
    {
      "data": {"name": "texts"},
      "transform": [{"filter": "datum.box != 'value' && datum.box != 'change'"}],
      "mark": {"type": "text", "font": "Liberation Sans", "fontSize": 11.2, "color": "#000000", "align": "left", "baseline": "middle"},
      "encoding": {
        "x": {"field": "x", "type": "quantitative", "title": null},
        "y": {"field": "y", "type": "quantitative", "title": null},
        "text": {"field": "t"}
      }
    },
    {
      "data": {"name": "texts"},
      "transform": [{"filter": "datum.box == 'value' || datum.box == 'change'"}],
      "mark": {"type": "text", "font": "Liberation Sans", "fontSize": 11.2, "color": "#ffffff", "align": "left", "baseline": "middle"},
      "encoding": {
        "x": {"field": "x", "type": "quantitative", "title": null},
        "y": {"field": "y", "type": "quantitative", "title": null},
        "text": {"field": "t"}
      }
    }
  ]
}
